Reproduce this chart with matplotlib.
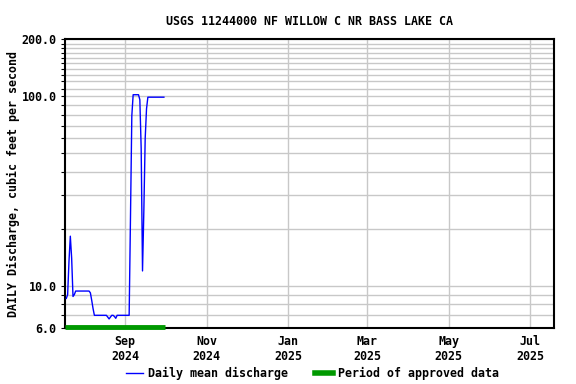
import numpy as np
import pandas as pd
import matplotlib
matplotlib.use("Agg")
import matplotlib.pyplot as plt
import matplotlib.dates as mdates
from matplotlib.ticker import FixedLocator, FuncFormatter, NullFormatter
from matplotlib.lines import Line2D

plt.rcParams['font.family'] = 'DejaVu Sans Mono'
plt.rcParams['font.weight'] = 'bold'
plt.rcParams['font.size'] = 8.4

title = "USGS 11244000 NF WILLOW C NR BASS LAKE CA"
ylabel = "DAILY Discharge, cubic feet per second"

# daily mean discharge, Jul 19 2024 .. Sep 30 2024
start = "2024-07-19"
discharge = [8.6, 9.0, 13.5, 18.3, 14.0, 8.8, 9.0, 9.4, 9.4, 9.4,
             9.4, 9.4, 9.4, 9.4, 9.4, 9.4, 9.4, 9.4, 9.2, 8.4,
             7.6, 7.0, 7.0, 7.0, 7.0, 7.0, 7.0, 7.0, 7.0, 7.0,
             7.0, 6.85, 6.7, 6.85, 7.0, 7.0, 6.9, 6.75, 7.0, 7.0,
             7.0, 7.0, 7.0, 7.0, 7.0, 7.0, 7.0, 7.0, 23.0, 79.0,
             102.0, 102.0, 102.0, 102.0, 102.0, 96.0, 53.0, 12.0, 25.0, 60.0,
             86.0, 99.0, 99.0, 99.0, 99.0, 99.0, 99.0, 99.0, 99.0, 99.0,
             99.0, 99.0, 99.0, 99.0]
dates = pd.date_range(start, periods=len(discharge), freq="D")

approved_start = "2024-07-18"
approved_end = "2024-10-01"

x_start = "2024-07-18"
x_end = "2025-07-19"
month_ticks = ["2024-09-01", "2024-11-01", "2025-01-01", "2025-03-01", "2025-05-01", "2025-07-01"]
month_labels = ["Sep\n2024", "Nov\n2024", "Jan\n2025", "Mar\n2025", "May\n2025", "Jul\n2025"]

y_major = [6, 10, 100, 200]
y_minor = [7, 8, 9, 20, 30, 40, 50, 60, 70, 80, 90,
           110, 120, 130, 140, 150, 160, 170, 180, 190]

fig = plt.figure(figsize=(5.76, 3.84), dpi=100)
ax = fig.add_axes([0.1128, 0.1458, 0.8495, 0.7519])

ax.set_yscale('log')
ax.set_ylim(6, 200)
ax.set_xlim(pd.Timestamp(x_start), pd.Timestamp(x_end))

ax.yaxis.set_major_locator(FixedLocator(y_major))
ax.yaxis.set_minor_locator(FixedLocator(y_minor))
ax.yaxis.set_major_formatter(FuncFormatter(lambda v, p: "%.1f" % v))
ax.yaxis.set_minor_formatter(NullFormatter())

ax.set_xticks([pd.Timestamp(d) for d in month_ticks])
ax.set_xticklabels(month_labels)
ax.xaxis.set_minor_locator(FixedLocator([]))

ax.grid(True, which='both', color='#c8c8c8', linewidth=1.0)
ax.set_axisbelow(True)

ax.tick_params(axis='y', which='both', direction='out', length=3, width=0.8, pad=3, labelsize=8.4)
ax.tick_params(axis='x', which='both', length=0, pad=5, labelsize=8.4)

for s in ax.spines.values():
    s.set_linewidth(1.5)

ax.plot(dates, discharge, color='#0000ff', linewidth=1.0, zorder=3)
ax.plot([pd.Timestamp(approved_start), pd.Timestamp(approved_end)], [6.07, 6.07],
        color='#009900', linewidth=3.5, solid_capstyle='butt', clip_on=False, zorder=4)

ax.set_title(title, pad=10.5, fontsize=8.4, fontweight='bold')
ax.set_ylabel(ylabel, fontsize=8.4, fontweight='bold', labelpad=1.5)

handles = [Line2D([], [], color='#0000ff', linewidth=1.0),
           Line2D([], [], color='#009900', linewidth=4)]
fig.legend(handles, ["Daily mean discharge", "Period of approved data"],
           loc='center', bbox_to_anchor=(0.542, 0.028), ncol=2, frameon=False,
           handlelength=1.5, handletextpad=0.45, columnspacing=2.3, fontsize=8.4)

fig.savefig("out.png", dpi=100)
